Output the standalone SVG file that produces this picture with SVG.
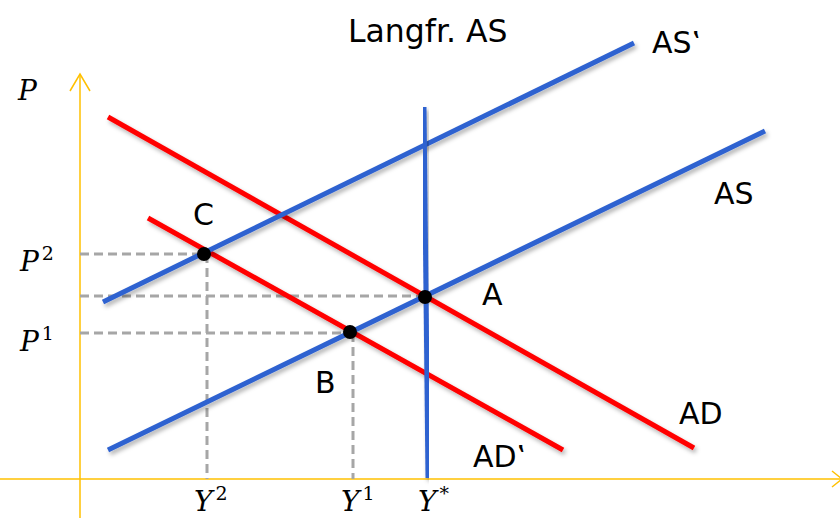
<svg xmlns="http://www.w3.org/2000/svg" width="840" height="518" viewBox="0 0 840 518">
<style>
.ax{stroke:#FFC000;stroke-width:1.5;fill:none}
.red{stroke:#FF0000;stroke-width:5;fill:none;filter:url(#sh)}
.blue{stroke:#2F62D0;stroke-width:5;fill:none;filter:url(#sh)}
.dash{stroke:#A6A6A6;stroke-width:3;stroke-dasharray:9 5;fill:none}
.lbl{font-family:"DejaVu Sans",Verdana,sans-serif;font-size:30px;fill:#000}
.m{font-family:"DejaVu Serif","Liberation Serif",serif;font-style:italic;font-size:28px;fill:#000}
.sup{font-style:normal;font-size:19px}
.dot{fill:#000}
</style>
<defs>
<filter id="sh" x="-10%" y="-10%" width="120%" height="130%">
<feDropShadow dx="2" dy="3" stdDeviation="2" flood-color="#000" flood-opacity="0.3"/>
</filter>
</defs>
<g id="axes">
<line class="ax" x1="80" y1="518" x2="80" y2="74"/>
<polyline class="ax" points="70,91 80,74 90,91"/>
<line class="ax" x1="0" y1="479" x2="842" y2="479"/>
<polyline class="ax" points="832,471 842,479 832,487"/>
</g>
<g id="guides">
<line class="dash" x1="80" y1="254" x2="204" y2="254"/>
<line class="dash" x1="207" y1="254" x2="207" y2="479"/>
<line class="dash" x1="80" y1="296" x2="424" y2="296"/>
<line class="dash" x1="80" y1="333" x2="350" y2="333"/>
<line class="dash" x1="353" y1="333" x2="353" y2="479"/>
</g>
<g id="connectors">
<line id="AD" class="red" x1="108" y1="117" x2="694" y2="448"/>
<line id="ADp" class="red" x1="148" y1="218" x2="563" y2="450"/>
<line id="AS" class="blue" x1="108" y1="450" x2="765" y2="131"/>
<line id="ASp" class="blue" x1="103" y1="302" x2="634" y2="43"/>
<line id="LAS" class="blue" x1="424" y1="107" x2="428" y2="478"/>
</g>
<g id="point-C"><circle class="dot" cx="204" cy="254" r="7"/><text class="lbl" x="193" y="225">C</text></g>
<g id="point-A"><circle class="dot" cx="425" cy="297" r="7"/><text class="lbl" x="482" y="305">A</text></g>
<g id="point-B"><circle class="dot" cx="350" cy="332" r="7"/><text class="lbl" x="315" y="393">B</text></g>
<g id="labels">
<text class="lbl" x="348" y="42" style="font-size:31.5px">Langfr. AS</text>
<text class="lbl" x="652" y="53">AS‛</text>
<text class="lbl" x="714" y="204">AS</text>
<text class="lbl" x="679" y="424">AD</text>
<text class="lbl" x="473" y="467">AD‛</text>
<text class="m" x="18" y="100">P</text>
<text class="m" x="20" y="271">P<tspan class="sup" dx="3" dy="-11">2</tspan></text>
<text class="m" x="20" y="351">P<tspan class="sup" dx="3" dy="-11">1</tspan></text>
<text class="m" x="194" y="511">Y<tspan class="sup" dx="3" dy="-11">2</tspan></text>
<text class="m" x="341" y="511">Y<tspan class="sup" dx="3" dy="-11">1</tspan></text>
<text class="m" x="418" y="511">Y<tspan class="sup" dx="3" dy="-11">*</tspan></text>
</g>
</svg>
